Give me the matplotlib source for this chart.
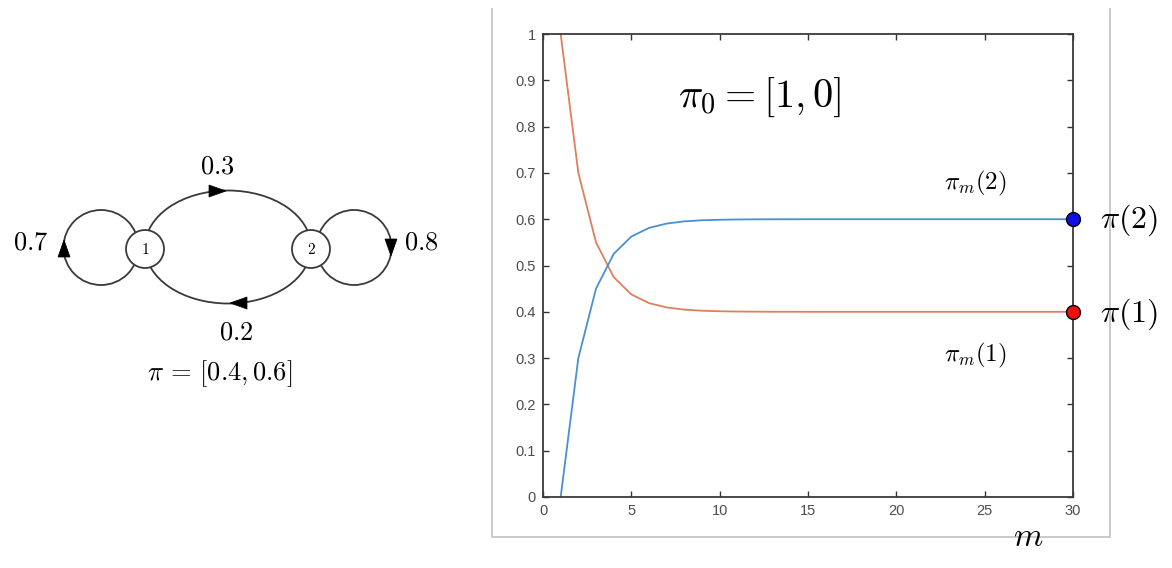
import matplotlib
matplotlib.use("Agg")
import matplotlib.pyplot as plt
from matplotlib.patches import Ellipse, Circle, Polygon
from matplotlib.ticker import FuncFormatter

plt.rcParams['mathtext.fontset'] = 'cm'

# ---------------- data ----------------
steps = list(range(1, 31))
pi_m1 = [1.0, 0.7, 0.55, 0.475, 0.4375, 0.4188, 0.4094, 0.4047, 0.4023, 0.4012,
         0.4006, 0.4003, 0.4001, 0.4001, 0.4, 0.4, 0.4, 0.4, 0.4, 0.4,
         0.4, 0.4, 0.4, 0.4, 0.4, 0.4, 0.4, 0.4, 0.4, 0.4]
pi_m2 = [0.0, 0.3, 0.45, 0.525, 0.5625, 0.5812, 0.5906, 0.5953, 0.5977, 0.5988,
         0.5994, 0.5997, 0.5999, 0.5999, 0.6, 0.6, 0.6, 0.6, 0.6, 0.6,
         0.6, 0.6, 0.6, 0.6, 0.6, 0.6, 0.6, 0.6, 0.6, 0.6]
pi_stationary = [0.4, 0.6]
transition_labels = {"p11": "0.7", "p12": "0.3", "p21": "0.2", "p22": "0.8"}
x_ticks = [0, 5, 10, 15, 20, 25, 30]
y_ticks = [0, 0.1, 0.2, 0.3, 0.4, 0.5, 0.6, 0.7, 0.8, 0.9, 1]

ORANGE = '#df7f5b'
BLUE = '#4a8fd6'
W, H = 1172, 568

fig = plt.figure(figsize=(W / 100, H / 100), dpi=100)
bg = fig.add_axes([0, 0, 1, 1])
bg.set_xlim(0, W)
bg.set_ylim(H, 0)
bg.axis('off')

# ---------------- diagram ----------------
lc = '#3a3a3a'
lw = 1.3
bg.add_patch(Ellipse((228, 247), 166, 113, fill=False, ec=lc, lw=lw))
bg.add_patch(Circle((101, 247.5), 37.5, fill=False, ec=lc, lw=lw))
bg.add_patch(Circle((354, 247.5), 37.5, fill=False, ec=lc, lw=lw))
for cx, lab in [(145, '1'), (311, '2')]:
    bg.add_patch(Circle((cx, 249), 19, fc='white', ec=lc, lw=lw, zorder=3))
    bg.text(cx, 250, '$' + lab + '$', ha='center', va='center', fontsize=11, zorder=4)


def tri(tip, d, length=17, width=12):
    tx, ty = tip
    dx, dy = d
    bx, by = tx - dx * length, ty - dy * length
    px, py = -dy * width / 2, dx * width / 2
    bg.add_patch(Polygon([(tx, ty), (bx + px, by + py), (bx - px, by - py)],
                         closed=True, fc='black', ec='black', lw=0.5, zorder=5))


tri((226, 191), (1, 0))
tri((230, 303), (-1, 0))
tri((64, 240), (0, -1))
tri((391, 256), (0, 1))

tfs = 19
bg.text(217, 166, '$' + transition_labels['p12'] + '$', ha='center', va='center', fontsize=tfs)
bg.text(31, 243, '$' + transition_labels['p11'] + '$', ha='center', va='center', fontsize=tfs)
bg.text(421, 243, '$' + transition_labels['p22'] + '$', ha='center', va='center', fontsize=tfs)
bg.text(236, 333, '$' + transition_labels['p21'] + '$', ha='center', va='center', fontsize=tfs)
bg.text(220, 374, r'$\pi\,=\,[%g, %g]$' % tuple(pi_stationary), ha='center', va='center',
        fontsize=tfs)

# ---------------- frame ----------------
bg.plot([492, 492, 1110, 1110], [9, 537, 537, 9], color='#c6c6c6', lw=1.3, zorder=0)

# ---------------- plot ----------------
L, R, T, B = 543, 1073, 34, 497
ax = fig.add_axes([L / W, 1 - B / H, (R - L) / W, (B - T) / H])
ax.patch.set_alpha(0)
ax.plot(steps, pi_m1, color=ORANGE, lw=1.3)
ax.plot(steps, pi_m2, color=BLUE, lw=1.3)
ax.plot(steps[-1], pi_stationary[1], 'o', mfc='#1010e0', mec='black', mew=1.0, ms=10,
        clip_on=False, zorder=6)
ax.plot(steps[-1], pi_stationary[0], 'o', mfc='#ee1010', mec='black', mew=1.0, ms=10,
        clip_on=False, zorder=6)
ax.set_xlim(0, 30)
ax.set_ylim(0, 1)
ax.set_xticks(x_ticks)
ax.set_yticks(y_ticks)
fmt = FuncFormatter(lambda v, _: f'{v:g}')
ax.xaxis.set_major_formatter(fmt)
ax.yaxis.set_major_formatter(fmt)
ax.tick_params(direction='in', length=4, width=1.0, top=True, right=True,
               color='#333333', labelcolor='#4d4d4d', labelsize=10.5)
ax.tick_params(axis='x', pad=5)
ax.tick_params(axis='y', pad=5)
for lab in ax.get_xticklabels() + ax.get_yticklabels():
    lab.set_family('Liberation Sans')
for sp in ax.spines.values():
    sp.set_color('#3a3a3a')
    sp.set_linewidth(1.3)

# ---------------- annotations ----------------
bg.text(760, 97, r'$\pi_0 = [1, 0]$', ha='center', va='center', fontsize=29)
bg.text(975, 183, r'$\pi_m(2)$', ha='center', va='center', fontsize=18)
bg.text(975, 355, r'$\pi_m(1)$', ha='center', va='center', fontsize=18)
bg.text(1129, 220, r'$\pi(2)$', ha='center', va='center', fontsize=23)
bg.text(1129, 314, r'$\pi(1)$', ha='center', va='center', fontsize=23)
bg.text(1028, 537, r'$m$', ha='center', va='center', fontsize=24, zorder=5)

fig.savefig('out.png', dpi=100)
